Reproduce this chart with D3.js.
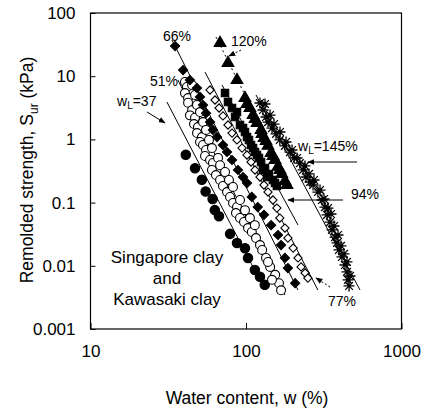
<!DOCTYPE html>
<html>
<head>
<meta charset="utf-8">
<script src="https://cdn.jsdelivr.net/npm/d3@7"></script>
<style>
body { margin: 0; background: #fff; }
svg text { font-family: "Liberation Sans", Arial, sans-serif; fill: #000; }
</style>
</head>
<body>
<svg id="chart" width="426" height="410"></svg>
<script>
// water content w (%) , remolded strength Sur (kPa)
var wL37 = [[41,0.57],[47,0.35],[52,0.23],[55,0.15],[61,0.114],[63,0.076],[67,0.061],[79,0.032],[87.5,0.023],[98.5,0.019],[103,0.0133],[114,0.0086],[123,0.0067],[132,0.005]]
var wL51 = [[40.5,8.1],[41.7,6.75],[40.5,5.4],[42.4,4.5],[42.4,3.8],[45,2.9],[43.6,2.4],[47,2.2],[46.3,1.75],[49.1,1.57],[48.4,1.26],[52.1,1.09],[50.6,0.91],[52.9,0.815],[55.3,0.68],[54.5,0.546],[58.7,0.472],[61.3,0.423],[60.4,0.328],[64.1,0.273],[68.1,0.228],[71.1,0.183],[75.5,0.147],[78.9,0.123],[82.5,0.0986],[87.5,0.0852],[86.2,0.0684],[91.5,0.0571],[97.1,0.0493],[103,0.0396],[109,0.0343],[116,0.0275],[123,0.0213],[127,0.0178],[134.5,0.0133],[143,0.0096],[154,0.0072],[163,0.0053],[168,0.0041],
  [45,7.26],[47,5.04],[48.4,3.5],[50.6,2.71],[52.9,1.88],[55.3,1.41],[57.8,0.98],[60.4,0.73],[66.1,0.51],[68.1,0.39],[73.3,0.305],[77.7,0.228],[82.5,0.177],[91.5,0.11],[98.5,0.076],[106,0.057],[114,0.044],[138.5,0.0115],[147,0.006]]
var wL66 = [[35,30],[39.4,12.5],[43.6,8.7],[48.4,6.5],[50.6,4.7],[52.9,3.5],[55.3,2.6],[58.7,1.88],[61.3,1.41],[65.1,1.09],[71.1,0.815],[75.5,0.632],[81.3,0.472],[88.8,0.328],[95.7,0.254],[101.5,0.204],[109,0.123],[119,0.085],[130.5,0.064],[145,0.044],[160.6,0.0307],[168,0.0213],[178,0.0133],[186,0.0092],[207,0.0053]]
var wL77 = [[58.7,6.05],[63.2,4.2],[67.1,3.14],[71.1,2.35],[76.6,1.69],[81.3,1.26],[87.5,0.98],[94.3,0.73],[101.5,0.566],[107.7,0.439],[114.3,0.328],[123,0.254],[130.5,0.19],[138.5,0.147],[149,0.11],[158,0.082],[165,0.057],[178,0.0396],[186,0.0275],[201,0.0191],[216,0.0133],[226,0.0096],[240,0.0077],[250,0.0064]]
var wL94 = [[73.3,5.4],[76.6,3.9],[81.3,3.14],[85,2.26],[91.5,1.69],[98.5,1.31],[104.5,0.98],[111,0.73],[117.7,0.566],[125,0.44],[132.5,0.353],[140.6,0.284],[149,0.228],[158,0.183],
  [87.5,2.71],[95.7,1.51],[101.5,1.09],[107.7,0.815],[114.3,0.632],[121.2,0.508],[128.6,0.328],[136.5,0.254],[153.7,0.204]]
var wL120 = [[68.1,33.5],[76.6,16.2],[87.5,8.7],[98.5,4.5],[106,3.14],[111,2.43],[117.7,1.82],[125,1.41],[130.5,1.05],[138.5,0.79],[145,0.61],[153.7,0.47],[160.6,0.37],[170,0.284],[178,0.22],
  [101.5,3.63],[114.3,2.1],[126.7,1.22],[134.5,0.943],[149.2,0.546],[165.4,0.328],[183.5,0.19]]
var wL145 = [[123,3.77],[128.6,2.92],[134.5,2.26],[138.5,1.88],[147,1.51],[156,1.22],[165,0.98],[178,0.79],[192,0.63],[204,0.51],[222,0.42],[233,0.33],[243,0.254],[258,0.212],[270,0.19],[290,0.147],[308,0.11],[322,0.085],[332,0.064],[347,0.049],[357,0.037],[374,0.0285],[385,0.023],[396,0.0178],[414,0.0138],[433,0.0103],[446,0.008],[453,0.006],[460,0.0048],
  [132.5,3.63],[142.7,2.43],[151.4,1.75],[165.4,1.31],[180.9,0.91],[197.7,0.68],[212.8,0.508],[239.5,0.38],[254.2,0.284],[273.7,0.228],[299.2,0.158],[317.4,0.114],[336.9,0.082],[352.1,0.066],[368.1,0.0426],[390.6,0.0307],[408.3,0.0206],[426.9,0.0154],[446.1,0.0115],[466.6,0.0069]]

// trend lines, two end points each
var trendLines = [
  {name: '37', pts: [[31,3.91],[132.5,0.00414]], dash: null},
  {name: '51', pts: [[36.5,8.71],[178,0.00345]], dash: null},
  {name: '66', pts: [[33.4,37.4],[216,0.00414]], dash: null},
  {name: '77', pts: [[54.5,11.65],[290,0.00414]], dash: null},
  {name: '94', pts: [[70.1,7.26],[216,0.0442]], dash: null},
  {name: '120', pts: [[64.1,41.7],[192,0.19]], dash: '2,3'},
  {name: '145', pts: [[116,5.04],[541,0.00414]], dash: null}
]

var xTicks = [10, 100, 1000]
var yTicks = [0.001, 0.01, 0.1, 1, 10, 100]

var svg = d3.select('#chart')

var x = d3.scaleLog().domain([10, 1000]).range([90.5, 401.5])
var y = d3.scaleLog().domain([0.001, 100]).range([329, 13])

// axes with inward ticks
var yAxis = d3.axisLeft(y).tickValues(yTicks).tickSize(-5).tickPadding(15)
  .tickFormat(function (d) { return d3.format('~g')(d) })
var xAxis = d3.axisBottom(x).tickValues(xTicks).tickSize(-6).tickPadding(16)
  .tickFormat(function (d) { return d3.format('~g')(d) })

var gy = svg.append('g').attr('transform', 'translate(90.5,0)').call(yAxis)
var gx = svg.append('g').attr('transform', 'translate(0,329)').call(xAxis)
gy.select('.domain').remove()
gx.select('.domain').remove()
svg.selectAll('.tick text').attr('font-size', 17).attr('font-family', '"Liberation Sans", Arial, sans-serif')
svg.selectAll('.tick line').attr('stroke', '#000')

// frame
svg.append('rect')
  .attr('x', 90.5).attr('y', 13)
  .attr('width', 311).attr('height', 316)
  .attr('fill', 'none').attr('stroke', '#000').attr('stroke-width', 1.2)

// axis titles
svg.append('text')
  .attr('x', 247).attr('y', 404)
  .attr('text-anchor', 'middle').attr('font-size', 17.5)
  .text('Water content, w (%)')

// y title built from pieces so the subscript can be measured and the whole centred
var ytParts = [
  {t: 'Remolded strength, S', size: 17.5, dy: 0},
  {t: 'ur', size: 12, dy: 5},
  {t: ' (kPa)', size: 17.5, dy: 0}
]
var ytG = svg.append('g')
var ytInner = ytG.append('g')
var run = 0
ytParts.forEach(function (p) {
  var t = ytInner.append('text').attr('x', run).attr('y', p.dy)
    .attr('font-size', p.size).style('white-space', 'pre').text(p.t)
  run += t.node().getComputedTextLength()
})
ytInner.attr('transform', 'translate(' + (-run / 2) + ',0)')
ytG.attr('transform', 'translate(33,170) rotate(-90)')

// trend lines
var line = d3.line().x(function (d) { return x(d[0]) }).y(function (d) { return y(d[1]) })
svg.append('g').selectAll('path')
  .data(trendLines)
  .enter().append('path')
  .attr('d', function (d) { return line(d.pts) })
  .attr('fill', 'none').attr('stroke', '#000').attr('stroke-width', 1)
  .attr('stroke-dasharray', function (d) { return d.dash })

// asterisk marker path
function asterisk(r) {
  var p = ''
  for (var i = 0; i < 4; i++) {
    var a = i * Math.PI / 4
    var dx = r * Math.sin(a), dy = r * Math.cos(a)
    p += 'M' + (-dx) + ',' + (-dy) + 'L' + dx + ',' + dy
  }
  return p
}

var series = [
  {data: wL37, shape: d3.symbolCircle, size: 70, fill: '#000', rot: 0},
  {data: wL51, shape: d3.symbolCircle, size: 62, fill: '#fff', rot: 0},
  {data: wL66, shape: d3.symbolSquare, size: 42, fill: '#000', rot: 45},
  {data: wL77, shape: d3.symbolSquare, size: 34, fill: '#fff', rot: 45},
  {data: wL94, shape: d3.symbolSquare, size: 55, fill: '#000', rot: 0},
  {data: wL120, shape: d3.symbolTriangle, size: 60, fill: '#000', rot: 0},
  {data: wL145, shape: 'asterisk', size: 0, fill: 'none', rot: 0}
]

series.forEach(function (s) {
  var g = svg.append('g')
  g.selectAll('path')
    .data(s.data)
    .enter().append('path')
    .attr('transform', function (d) {
      return 'translate(' + x(d[0]) + ',' + y(d[1]) + ') rotate(' + s.rot + ')'
    })
    .attr('d', function () {
      return s.shape === 'asterisk' ? asterisk(5.5) : d3.symbol().type(s.shape).size(s.size)()
    })
    .attr('fill', s.fill)
    .attr('stroke', '#000')
    .attr('stroke-width', s.shape === 'asterisk' ? 1.3 : 1.1)
})

// labels and arrows
svg.append('defs').append('marker')
  .attr('id', 'arr').attr('viewBox', '0 0 10 10')
  .attr('refX', 9).attr('refY', 5)
  .attr('markerWidth', 7).attr('markerHeight', 7)
  .attr('orient', 'auto-start-reverse')
  .append('path').attr('d', 'M0,1L10,5L0,9Z').attr('fill', '#000')

var arrows = [
  {from: [147, 112], to: [165, 123], dash: null},
  {from: [241, 50], to: [229, 56], dash: '2,2'},
  {from: [357, 162], to: [308, 162], dash: null},
  {from: [343, 200], to: [288, 200], dash: null},
  {from: [330, 287], to: [316, 278], dash: '2,2'}
]
svg.append('g').selectAll('line')
  .data(arrows)
  .enter().append('line')
  .attr('x1', function (d) { return d.from[0] }).attr('y1', function (d) { return d.from[1] })
  .attr('x2', function (d) { return d.to[0] }).attr('y2', function (d) { return d.to[1] })
  .attr('stroke', '#000').attr('stroke-width', 1)
  .attr('stroke-dasharray', function (d) { return d.dash })
  .attr('marker-end', 'url(#arr)')

var labels = [
  {t: '66%', x: 163, y: 41},
  {t: '51%', x: 150, y: 86},
  {t: '120%', x: 231, y: 46},
  {t: '94%', x: 351, y: 199},
  {t: '77%', x: 328, y: 306}
]
svg.append('g').selectAll('text')
  .data(labels)
  .enter().append('text')
  .attr('x', function (d) { return d.x }).attr('y', function (d) { return d.y })
  .attr('font-size', 14)
  .text(function (d) { return d.t })

function wlLabel(xp, yp, val) {
  var t = svg.append('text').attr('x', xp).attr('y', yp).attr('font-size', 14)
  t.append('tspan').text('w')
  t.append('tspan').attr('font-size', 10).attr('dy', 3).text('L')
  t.append('tspan').attr('dy', -3).text('=' + val)
}
wlLabel(117, 106, '37')
wlLabel(298, 151, '145%')

// clay names
var clay = ['Singapore clay', 'and', 'Kawasaki clay']
svg.append('g').selectAll('text')
  .data(clay)
  .enter().append('text')
  .attr('x', 167)
  .attr('y', function (d, i) { return 263 + i * 21 })
  .attr('text-anchor', 'middle').attr('font-size', 17)
  .text(function (d) { return d })
</script>
</body>
</html>
